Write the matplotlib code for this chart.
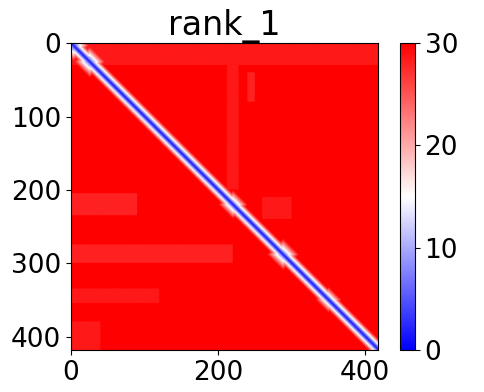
import numpy as np
import matplotlib
matplotlib.use("Agg")
import matplotlib.pyplot as plt

# predicted aligned error, 419 residues
n_res = 419
pae_max = 30.0
diag_min = 1.0        # error on the diagonal
diag_slope = 2.0      # error rise per residue away from diagonal

# low-error blobs sitting on the diagonal (center, radius, value)
blob_center = [3, 25, 220, 288, 350, 416]
blob_radius = [22, 22, 20, 22, 18, 12]
blob_value = [3, 4, 5, 5, 6, 3]

# paler patches in the off-diagonal region (row0, row1, col0, col1, value)
patch_rows0 = [0, 205, 275, 335, 0, 40, 380, 210]
patch_rows1 = [30, 235, 300, 355, 200, 80, 419, 240]
patch_cols0 = [0, 0, 0, 0, 212, 240, 0, 260]
patch_cols1 = [419, 90, 220, 120, 228, 250, 40, 300]
patch_value = [28.5, 28, 28, 28.5, 28.5, 28, 28.5, 28.5]

idx = np.arange(n_res)
ii, jj = np.meshgrid(idx, idx, indexing="ij")
pae = np.full((n_res, n_res), pae_max)
for r0, r1, c0, c1, v in zip(patch_rows0, patch_rows1, patch_cols0, patch_cols1, patch_value):
    pae[r0:r1, c0:c1] = np.minimum(pae[r0:r1, c0:c1], v)
pae = np.minimum(pae, diag_min + diag_slope * np.abs(ii - jj))
for c, r, v in zip(blob_center, blob_radius, blob_value):
    d = np.abs(ii - c) + np.abs(jj - c)
    pae = np.minimum(pae, v + (pae_max - v) / r * d)

plt.rcParams["font.size"] = 19
fig = plt.figure(figsize=(4.84, 3.92), dpi=100)
ax = fig.add_axes([0.146, 0.107, 0.636, 0.783])
im = ax.imshow(pae, cmap="bwr", vmin=0, vmax=pae_max, aspect="auto",
               interpolation="antialiased")
ax.set_title("rank_1", fontsize=24)
ax.set_xticks([0, 200, 400])
ax.set_yticks([0, 100, 200, 300, 400])
cax = fig.add_axes([0.826, 0.107, 0.031, 0.783])
cb = fig.colorbar(im, cax=cax)
cb.set_ticks([0, 10, 20, 30])
fig.savefig("out.png", dpi=100)
